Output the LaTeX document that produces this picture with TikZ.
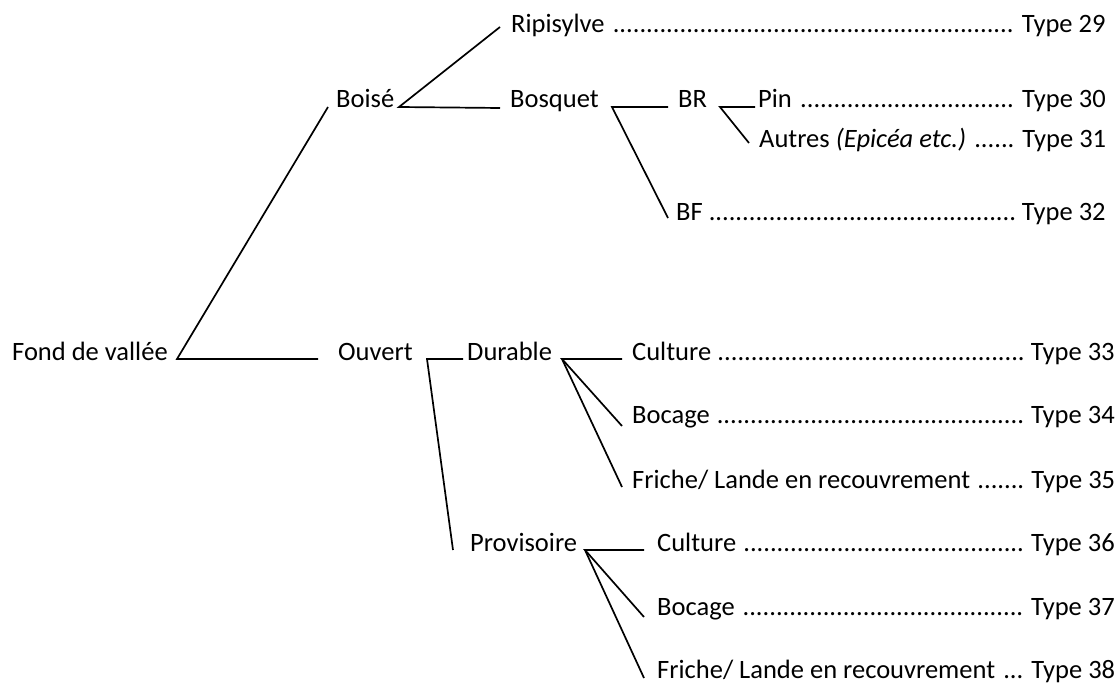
\documentclass[tikz,border=0pt]{standalone}
\usepackage{fontspec}
\setmainfont{Carlito}
\newcommand{\dotlead}{\cleaders\hbox{.}\hfill}
\newcommand{\lrow}[3]{\makebox[#1pt][l]{#2\ \dotlead\ #3}}
\begin{document}
\begin{tikzpicture}[x=1pt,y=-1pt,
  lbl/.style={anchor=base west, inner sep=0pt, font=\fontsize{26.5}{30}\selectfont},
  conn/.style={line width=1.7pt}]
\useasboundingbox (0,0) rectangle (1119,684);
% nodes
\node[lbl] (fond) at (12,361) {Fond de vallée};
\node[lbl] (boise) at (336,108) {Boisé};
\node[lbl] (ripi) at (511,33) {\lrow{595}{Ripisylve}{Type 29}};
\node[lbl] (bosq) at (510,108) {Bosquet};
\node[lbl] (br) at (678,108) {BR};
\node[lbl] (pin) at (758,108) {\lrow{348}{Pin}{Type 30}};
\node[lbl] (autres) at (759,148) {\lrow{347}{Autres \textit{(Epicéa etc.)}}{Type 31}};
\node[lbl] (bf) at (676,221) {\lrow{430}{BF}{Type 32}};
\node[lbl] (ouvert) at (338,361) {Ouvert};
\node[lbl] (durable) at (467,361) {Durable};
\node[lbl] (cult1) at (632,361) {\lrow{483}{Culture}{Type 33}};
\node[lbl] (boc1) at (632,424) {\lrow{483}{Bocage}{Type 34}};
\node[lbl] (fri1) at (632,488) {\lrow{483}{Friche/ Lande en recouvrement}{Type 35}};
\node[lbl] (prov) at (470,551) {Provisoire};
\node[lbl] (cult2) at (657,551) {\lrow{458}{Culture}{Type 36}};
\node[lbl] (boc2) at (657,615) {\lrow{458}{Bocage}{Type 37}};
\node[lbl] (fri2) at (657,678) {\lrow{458}{Friche/ Lande en recouvrement}{Type 38}};
% connector end points
\coordinate (fondV) at (177,359);
\coordinate (boiseE) at (328,107);
\coordinate (ouvE) at (318,359);
\coordinate (boiseV) at (399,107);
\coordinate (ripiE) at (500,27);
\coordinate (bosqE) at (500,108);
\coordinate (bosqV) at (612,107);
\coordinate (brE) at (668,107);
\coordinate (bfE) at (668,218);
\coordinate (brV) at (720,107);
\coordinate (pinE) at (755,107);
\coordinate (autE) at (749,143);
\coordinate (ouvV) at (427,359);
\coordinate (durE) at (463,359);
\coordinate (provE) at (453,550);
\coordinate (durV) at (562,359);
\coordinate (cult1E) at (622,359);
\coordinate (boc1E) at (622,426);
\coordinate (fri1E) at (622,487);
\coordinate (provV) at (585,550);
\coordinate (cult2E) at (644,550);
\coordinate (boc2E) at (644,617);
\coordinate (fri2E) at (644,678);
% connectors
\draw[conn] (boiseE) -- (fondV) -- (ouvE);
\draw[conn] (ripiE) -- (boiseV) -- (bosqE);
\draw[conn] (brE) -- (bosqV) -- (bfE);
\draw[conn] (pinE) -- (brV) -- (autE);
\draw[conn] (durE) -- (ouvV) -- (provE);
\draw[conn] (cult1E) -- (durV) -- (boc1E);
\draw[conn] (durV) -- (fri1E);
\draw[conn] (cult2E) -- (provV) -- (boc2E);
\draw[conn] (provV) -- (fri2E);
\end{tikzpicture}
\end{document}
